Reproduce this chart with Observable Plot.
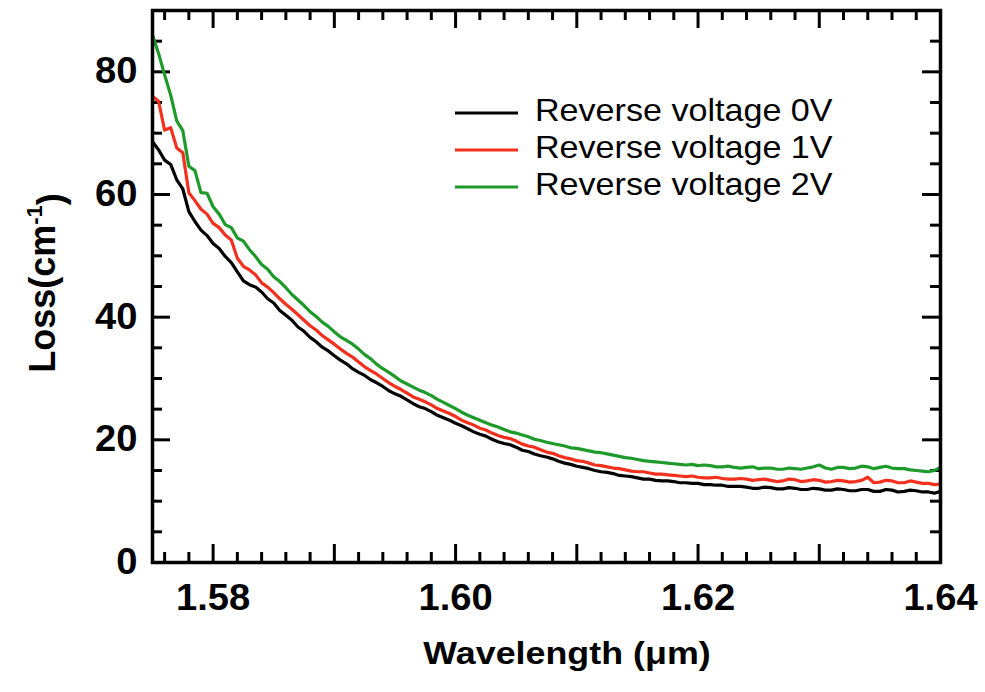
<!DOCTYPE html>
<html>
<head>
<meta charset="utf-8">
<script src="https://cdn.jsdelivr.net/npm/d3@7"></script>
<script src="https://cdn.jsdelivr.net/npm/@observablehq/plot@0.6"></script>
<style>
  body { margin: 0; background: #fff; }
  #chart svg { display: block; }
</style>
</head>
<body>
<div id="chart"></div>
<script>
// Measured loss spectra of the waveguide under reverse bias (sampled every 0.5 nm)
const wavelength = [
  1.5750, 1.5755, 1.5760, 1.5765, 1.5770, 1.5775, 1.5780, 1.5785, 1.5790, 1.5795,
  1.5800, 1.5805, 1.5810, 1.5815, 1.5820, 1.5825, 1.5830, 1.5835, 1.5840, 1.5845,
  1.5850, 1.5855, 1.5860, 1.5865, 1.5870, 1.5875, 1.5880, 1.5885, 1.5890, 1.5895,
  1.5900, 1.5905, 1.5910, 1.5915, 1.5920, 1.5925, 1.5930, 1.5935, 1.5940, 1.5945,
  1.5950, 1.5955, 1.5960, 1.5965, 1.5970, 1.5975, 1.5980, 1.5985, 1.5990, 1.5995,
  1.6000, 1.6005, 1.6010, 1.6015, 1.6020, 1.6025, 1.6030, 1.6035, 1.6040, 1.6045,
  1.6050, 1.6055, 1.6060, 1.6065, 1.6070, 1.6075, 1.6080, 1.6085, 1.6090, 1.6095,
  1.6100, 1.6105, 1.6110, 1.6115, 1.6120, 1.6125, 1.6130, 1.6135, 1.6140, 1.6145,
  1.6150, 1.6155, 1.6160, 1.6165, 1.6170, 1.6175, 1.6180, 1.6185, 1.6190, 1.6195,
  1.6200, 1.6205, 1.6210, 1.6215, 1.6220, 1.6225, 1.6230, 1.6235, 1.6240, 1.6245,
  1.6250, 1.6255, 1.6260, 1.6265, 1.6270, 1.6275, 1.6280, 1.6285, 1.6290, 1.6295,
  1.6300, 1.6305, 1.6310, 1.6315, 1.6320, 1.6325, 1.6330, 1.6335, 1.6340, 1.6345,
  1.6350, 1.6355, 1.6360, 1.6365, 1.6370, 1.6375, 1.6380, 1.6385, 1.6390, 1.6395,
  1.6400
];
const loss0V = [
  68.6, 67.3, 65.6, 64.9, 62.4, 60.9, 57.2, 55.6, 54.2, 53.3,
  52.0, 51.2, 49.9, 48.9, 47.4, 45.9, 45.3, 44.9, 44.1, 43.0,
  42.3, 41.1, 40.3, 39.5, 38.4, 37.7, 36.7, 36.0, 35.1, 34.5,
  33.7, 33.0, 32.4, 31.6, 31.0, 30.5, 29.8, 29.3, 28.7, 28.0,
  27.5, 27.1, 26.5, 25.9, 25.4, 25.1, 24.6, 24.0, 23.6, 23.2,
  22.7, 22.3, 21.8, 21.3, 20.9, 20.6, 20.1, 19.7, 19.4, 19.2,
  18.8, 18.3, 18.1, 17.7, 17.4, 17.2, 16.9, 16.5, 16.2, 16.0,
  15.7, 15.5, 15.3, 15.0, 14.8, 14.7, 14.5, 14.2, 14.1, 14.0,
  13.8, 13.6, 13.6, 13.4, 13.3, 13.3, 13.2, 13.0, 13.0, 12.9,
  12.9, 12.7, 12.7, 12.6, 12.6, 12.4, 12.4, 12.4, 12.3, 12.1,
  12.1, 12.3, 12.2, 12.0, 12.0, 12.2, 12.1, 11.9, 11.9, 12.1,
  12.0, 11.8, 11.8, 12.0, 11.9, 11.7, 11.7, 11.9, 11.9, 11.6,
  11.6, 11.9, 11.8, 11.5, 11.6, 11.8, 11.7, 11.5, 11.5, 11.3,
  11.6
];
const loss1V = [
  76.0, 75.2, 70.5, 70.9, 67.6, 66.8, 60.3, 59.0, 57.6, 56.8,
  55.3, 54.6, 53.4, 52.6, 49.6, 48.3, 47.7, 46.9, 45.6, 44.9,
  44.0, 43.0, 42.1, 41.3, 40.4, 39.5, 38.6, 37.9, 37.0, 36.3,
  35.6, 34.8, 34.1, 33.5, 32.7, 31.9, 31.3, 30.7, 30.0, 29.3,
  28.7, 28.2, 27.6, 27.0, 26.6, 26.2, 25.7, 25.1, 24.7, 24.3,
  23.8, 23.2, 22.8, 22.4, 21.9, 21.6, 21.1, 20.7, 20.4, 20.2,
  19.8, 19.3, 19.0, 18.8, 18.4, 18.0, 17.8, 17.4, 17.1, 16.9,
  16.6, 16.5, 16.2, 15.9, 15.8, 15.6, 15.4, 15.3, 15.1, 14.9,
  14.8, 14.8, 14.6, 14.4, 14.4, 14.3, 14.2, 14.1, 14.0, 14.1,
  13.9, 13.8, 13.8, 13.9, 13.7, 13.6, 13.6, 13.7, 13.6, 13.4,
  13.5, 13.6, 13.4, 13.2, 13.3, 13.6, 13.5, 13.2, 13.3, 13.5,
  13.4, 13.1, 13.2, 13.4, 13.3, 13.1, 13.2, 13.4, 13.9, 13.0,
  13.1, 13.4, 13.3, 13.0, 13.0, 13.3, 13.1, 12.9, 12.9, 12.7,
  12.8
];
const loss2V = [
  86.0, 83.0, 79.5, 76.2, 72.0, 70.4, 64.6, 63.9, 60.3, 60.2,
  58.0, 56.8, 55.1, 54.6, 52.9, 52.4, 51.0, 49.9, 48.6, 47.8,
  46.6, 45.8, 44.8, 43.7, 42.8, 41.9, 40.9, 40.1, 39.2, 38.5,
  37.6, 36.8, 36.2, 35.6, 34.8, 33.9, 33.2, 32.3, 31.6, 31.0,
  30.3, 29.6, 29.1, 28.6, 28.1, 27.7, 27.2, 26.6, 26.1, 25.6,
  25.1, 24.5, 24.0, 23.6, 23.2, 22.8, 22.4, 22.1, 21.7, 21.3,
  21.1, 20.8, 20.5, 20.1, 19.9, 19.6, 19.4, 19.2, 19.0, 18.7,
  18.6, 18.4, 18.2, 18.0, 17.9, 17.7, 17.5, 17.3, 17.1, 17.0,
  16.8, 16.6, 16.5, 16.4, 16.3, 16.2, 16.1, 16.0, 15.9, 16.0,
  15.8, 15.9, 15.8, 15.6, 15.6, 15.7, 15.5, 15.4, 15.5, 15.6,
  15.3, 15.4, 15.4, 15.2, 15.2, 15.4, 15.3, 15.2, 15.4, 15.6,
  15.9, 15.4, 15.2, 15.5, 15.5, 15.3, 15.4, 15.7, 15.6, 15.3,
  15.5, 15.7, 15.4, 15.3, 15.3, 15.1, 15.0, 14.9, 14.8, 15.0,
  15.5
];
const seriesNames = ["Reverse voltage 0V", "Reverse voltage 1V", "Reverse voltage 2V"];
const seriesColors = ["#000000", "#f2301d", "#1e9a2a"];
const xTickLabels = [1.58, 1.60, 1.62, 1.64];
const yTickLabels = [0, 20, 40, 60, 80];

const W = 985, H = 692;
const margin = {top: 10, right: 45, bottom: 130, left: 152};
const innerW = W - margin.left - margin.right;
const innerH = H - margin.top - margin.bottom;
const FONT = "'Liberation Sans', Arial, Helvetica, sans-serif";

const seriesValues = [loss0V, loss1V, loss2V];
const rows = seriesNames.flatMap((name, k) =>
  wavelength.map((w, i) => ({name, wavelength: w, loss: seriesValues[k][i]}))
);

// inward tick marks on all four sides of the frame
const xMinor = d3.range(1576, 1640, 2).filter(v => v % 10 !== 0).map(v => v / 1000);
const xMajor = d3.range(1580, 1640, 10).map(v => v / 1000);
const yMinor = d3.range(5, 90, 5).filter(v => v % 20 !== 0);
const yMajor = [20, 40, 60, 80];
const minorLen = 10, majorLen = 18;
const tk = {stroke: "#000", strokeWidth: 3};

const chart = Plot.plot({
  width: W,
  height: H,
  marginTop: margin.top,
  marginRight: margin.right,
  marginBottom: margin.bottom,
  marginLeft: margin.left,
  style: {fontFamily: FONT, background: "#fff", color: "#000"},
  x: {domain: [1.575, 1.64]},
  y: {domain: [0, 90]},
  color: {domain: seriesNames, range: seriesColors},
  marks: [
    Plot.tickX(xMinor, {x: d => d, insetTop: innerH - minorLen, ...tk}),
    Plot.tickX(xMinor, {x: d => d, insetBottom: innerH - minorLen, ...tk}),
    Plot.tickX(xMajor, {x: d => d, insetTop: innerH - majorLen, ...tk}),
    Plot.tickX(xMajor, {x: d => d, insetBottom: innerH - majorLen, ...tk}),
    Plot.tickY(yMinor, {y: d => d, insetRight: innerW - minorLen, ...tk}),
    Plot.tickY(yMinor, {y: d => d, insetLeft: innerW - minorLen, ...tk}),
    Plot.tickY(yMajor, {y: d => d, insetRight: innerW - majorLen, ...tk}),
    Plot.tickY(yMajor, {y: d => d, insetLeft: innerW - majorLen, ...tk}),
    Plot.line(rows, {
      x: "wavelength", y: "loss", z: "name", stroke: "name",
      strokeWidth: 3.2, strokeLinejoin: "round", strokeLinecap: "butt"
    }),
    Plot.frame({stroke: "#000", strokeWidth: 3.5}),
    Plot.axisX(xTickLabels, {
      tickSize: 0, tickPadding: 22, tickFormat: d3.format(".2f"),
      fontSize: 36, fontWeight: "bold", label: null
    }),
    Plot.axisY(yTickLabels, {
      tickSize: 0, tickPadding: 15, tickFormat: d3.format("d"),
      fontSize: 36, fontWeight: "bold", label: null
    })
  ]
});

document.getElementById("chart").appendChild(chart);
const svg = d3.select(chart);

// widen a text element horizontally about its own anchor point
function widen(node, s) {
  const x = parseFloat(node.getAttribute("x")) || 0;
  node.removeAttribute("x");
  const t = node.getAttribute("transform") || "";
  node.setAttribute("transform", `${t} translate(${x},0) scale(${s},1)`.trim());
}
svg.selectAll("g[aria-label$='tick label'] text").each(function () { widen(this, 1.06); });

// x-axis title
const xTitle = svg.append("text")
  .attr("x", 567).attr("y", 664)
  .attr("text-anchor", "middle")
  .style("font-family", FONT).style("font-weight", "bold").style("font-size", "32px")
  .attr("fill", "#000")
  .text("Wavelength (\u03bcm)");
widen(xTitle.node(), 1.12);

// y-axis title with superscript
const yTitle = svg.append("text")
  .attr("transform", "translate(55,283) rotate(-90)")
  .attr("text-anchor", "middle")
  .style("font-family", FONT).style("font-weight", "bold").style("font-size", "36px")
  .attr("fill", "#000");
yTitle.append("tspan").text("Loss(cm");
yTitle.append("tspan").attr("dy", "-0.6em").style("font-size", "22px").text("-1");
yTitle.append("tspan").attr("dy", "0.6em").text(")");

// legend
const legend = svg.append("g").attr("aria-label", "legend");
seriesNames.forEach((name, k) => {
  const y0 = 113 + 37 * k;
  legend.append("line")
    .attr("x1", 455).attr("x2", 518).attr("y1", y0).attr("y2", y0)
    .attr("stroke", seriesColors[k]).attr("stroke-width", 3);
  const t = legend.append("text")
    .attr("x", 535).attr("y", y0 + 8)
    .attr("text-anchor", "start")
    .style("font-family", FONT).style("font-size", "31px")
    .attr("fill", "#000")
    .text(name);
  widen(t.node(), 1.1);
});
</script>
</body>
</html>
